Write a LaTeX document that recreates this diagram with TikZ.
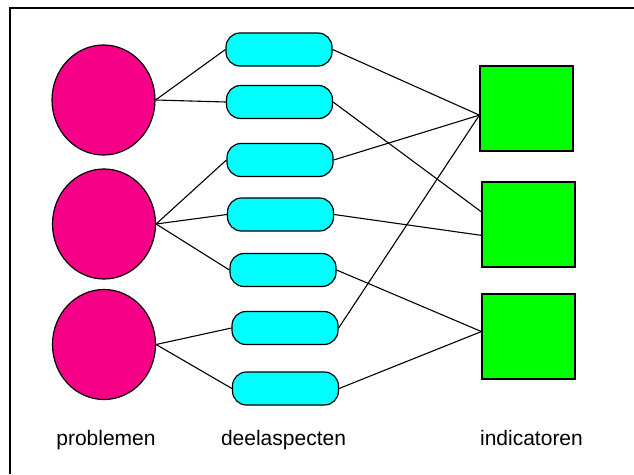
\documentclass[tikz,border=0pt]{standalone}
\usepackage{fontspec}
\setmainfont{Liberation Sans}
\usetikzlibrary{shapes.geometric}
\definecolor{problempink}{RGB}{245,0,135}
\definecolor{aspectcyan}{RGB}{0,255,255}
\definecolor{indicatorgreen}{RGB}{0,255,0}
\begin{document}
\begin{tikzpicture}
            [
                x = 1pt, y = -1pt,
                problem/.style = {draw, ellipse, fill=problempink, minimum width=103pt, minimum height=110pt, line width=1.2pt},
                aspect/.style = {draw, rectangle, rounded corners=14pt, fill=aspectcyan, minimum width=106pt, minimum height=33pt, line width=1.2pt},
                indicator/.style = {draw, rectangle, fill=indicatorgreen, minimum width=93pt, minimum height=85pt, line width=1.2pt},
                heading/.style = {anchor=base, font=\fontsize{21}{25}\selectfont},
                link/.style = {line width=1.1pt}
            ]
            \useasboundingbox (0, 0) rectangle (634, 474);
            \draw[line width=2pt] (10, 474) -- (10, 8) -- (634, 8);
            \node[problem] (P1) at (103.5, 100) {};
            \node[problem] (P2) at (104, 224) {};
            \node[problem] (P3) at (104, 344.5) {};
            \node[aspect] (A1) at (279, 49.5) {};
            \node[aspect] (A2) at (279.5, 102) {};
            \node[aspect] (A3) at (280, 160) {};
            \node[aspect] (A4) at (280.5, 214.5) {};
            \node[aspect] (A5) at (283, 270) {};
            \node[aspect] (A6) at (285, 328) {};
            \node[aspect] (A7) at (285.5, 388.5) {};
            \node[indicator] (I1) at (526.5, 108.5) {};
            \node[indicator] (I2) at (528.5, 224.5) {};
            \node[indicator] (I3) at (528.5, 336.5) {};
            \draw[link] (P1.east) -- (A1.west);
            \draw[link] (P1.east) -- (A2.west);
            \draw[link] (P2.east) -- (A3.west);
            \draw[link] (P2.east) -- (A4.west);
            \draw[link] (P2.east) -- (A5.west);
            \draw[link] (P3.east) -- (A6.west);
            \draw[link] (P3.east) -- (A7.west);
            \draw[link] (A1.east) -- (I1.188);
            \draw[link] (A3.east) -- (I1.188);
            \draw[link] (A6.east) -- (I1.188);
            \draw[link] (A2.east) -- (I2.165);
            \draw[link] (A4.east) -- (I2.193);
            \draw[link] (A5.east) -- (I3.174);
            \draw[link] (A7.east) -- (I3.174);
            \node[heading] (problemen) at (106, 445) {problemen};
            \node[heading] (deelaspecten) at (283.5, 445) {deelaspecten};
            \node[heading] (indicatoren) at (531.5, 445) {indicatoren};
        \end{tikzpicture}
\end{document}
